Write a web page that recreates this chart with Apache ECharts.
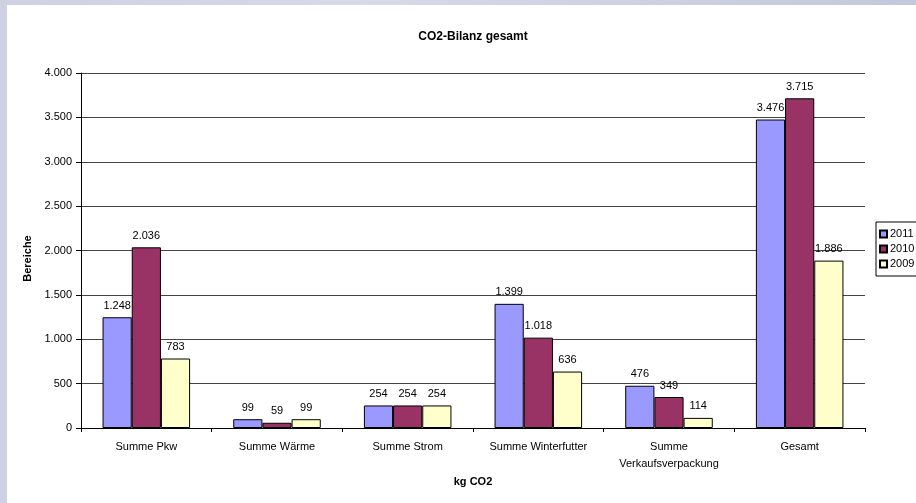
<!DOCTYPE html>
<html><head><meta charset="utf-8">
<script src="https://cdn.jsdelivr.net/npm/echarts@6/dist/echarts.min.js"></script>
<style>
html,body{margin:0;padding:0;width:916px;height:503px;overflow:hidden;
background:linear-gradient(90deg,#cdd1e3 0%,#d6d9e8 40%,#c3c8dc 100%);}
#c{position:absolute;left:7px;top:5px;width:909px;height:498px;background:#fff;}
</style></head>
<body><div id="c"></div>
<script>
const categories = ['Summe Pkw','Summe Wärme','Summe Strom','Summe Winterfutter','Summe\nVerkaufsverpackung','Gesamt'];
const seriesNames = ['2011','2010','2009'];
const values2011 = [1248, 99, 254, 1399, 476, 3476];
const values2010 = [2036, 59, 254, 1018, 349, 3715];
const values2009 = [783, 99, 254, 636, 114, 1886];
const colors = ['#9999ff','#993366','#ffffcc'];

function de(v){ return String(v).replace(/\B(?=(\d{3})+(?!\d))/g,'.'); }
const font = 'Liberation Sans, Arial, sans-serif';
const chart = echarts.init(document.getElementById('c'));
const data = [values2011, values2010, values2009];
chart.setOption({
  animation:false,
  textStyle:{fontFamily:font},
  title:{text:'CO2-Bilanz gesamt',left:461,top:21,textAlign:'center',
    textStyle:{fontSize:12,fontWeight:'bold',color:'#000',fontFamily:font}},
  legend:{orient:'vertical',left:869,top:217,itemWidth:7,itemHeight:7,itemGap:3,
    padding:[6,20,6,3],borderColor:'#000',borderWidth:1,icon:'rect',
    textStyle:{fontSize:11,lineHeight:12,color:'#000',fontFamily:font,padding:[0,0,0,-2]},
    data:seriesNames},
  grid:{left:74,right:51,top:68,bottom:75,containLabel:false},
  xAxis:{type:'category',data:categories,name:'kg CO2',nameLocation:'middle',nameGap:46,
    nameTextStyle:{fontSize:11,fontWeight:'bold',color:'#000',fontFamily:font},
    axisLine:{lineStyle:{color:'#000',width:1}},
    axisTick:{show:true,length:4,lineStyle:{color:'#000'}},
    axisLabel:{fontSize:11,color:'#000',margin:10,lineHeight:17,fontFamily:font}},
  yAxis:{type:'value',min:0,max:4000,interval:500,name:'Bereiche',nameLocation:'middle',nameGap:48,
    nameTextStyle:{fontSize:11,fontWeight:'bold',color:'#000',fontFamily:font,padding:[0,0,0,-16]},
    axisLine:{show:true,lineStyle:{color:'#000',width:1}},
    axisTick:{show:true,length:5,lineStyle:{color:'#000'}},
    axisLabel:{fontSize:11,color:'#000',margin:9,formatter:de,fontFamily:font},
    splitLine:{lineStyle:{color:'#444',width:1}}},
  series: seriesNames.map((n,i)=>({
    name:n,type:'bar',data:data[i],barGap:'0%',barCategoryGap:'33%',
    itemStyle:{color:colors[i],borderColor:'#000',borderWidth:1},
    label:{show:true,position:'top',distance:6,fontSize:11,color:'#000',fontFamily:font,
      formatter:p=>de(p.value)}
  }))
});
</script></body></html>
